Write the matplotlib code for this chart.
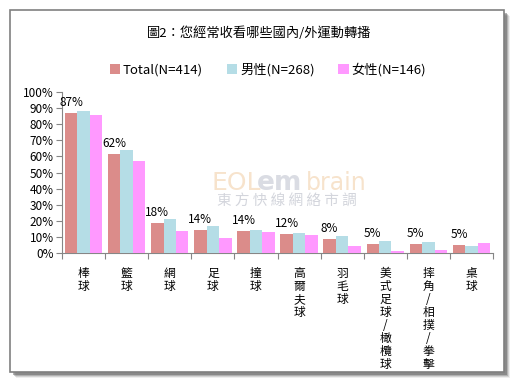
import matplotlib
matplotlib.use("Agg")
import matplotlib.pyplot as plt
from matplotlib.patches import Rectangle
import numpy as np

plt.rcParams['font.family'] = ['Noto Sans CJK TC', 'DejaVu Sans']

categories = ["棒球", "籃球", "網球", "足球", "撞球", "高爾夫球", "羽毛球", "美式足球/橄欖球", "摔角/相撲/拳擊", "桌球"]
total = [86.7, 61.6, 18.4, 14.3, 13.7, 11.9, 8.5, 5.6, 5.6, 5.1]
male = [88.1, 64.0, 21.0, 16.8, 14.3, 12.5, 10.6, 7.6, 6.9, 4.5]
female = [85.5, 57.3, 13.7, 9.4, 13.1, 11.2, 4.5, 1.4, 2.0, 6.3]
total_labels = ["87%", "62%", "18%", "14%", "14%", "12%", "8%", "5%", "5%", "5%"]
legend_labels = ["Total(N=414)", "男性(N=268)", "女性(N=146)"]
title = "圖2：您經常收看哪些國內/外運動轉播"
yticks = list(range(0, 101, 10))

W, H = 518, 383
fig = plt.figure(figsize=(W / 100, H / 100), dpi=100)
fig.patch.set_facecolor("white")

# frame with shadow
for i, a in enumerate([0.10, 0.18, 0.28, 0.45]):
    off = 5 - i
    fig.patches.append(Rectangle(((11 + off) / W, 1 - (373 + off) / H), 494 / W, 362 / H,
                                 transform=fig.transFigure, facecolor=(0.35, 0.35, 0.35, a),
                                 edgecolor="none", zorder=0))
fig.patches.append(Rectangle((10 / W, 1 - 372 / H), 494 / W, 362 / H, transform=fig.transFigure,
                             facecolor="white", edgecolor="#808080", linewidth=1.2, zorder=1))

ax = fig.add_axes([62 / W, 1 - 253 / H, (493 - 62) / W, (253 - 92) / H])
ax.set_facecolor("none")
ax.set_zorder(3)

x = np.arange(len(categories))
bw = 0.29
c_total, c_male, c_female = "#DB8C8A", "#B5DDE6", "#FF99FF"
ax.bar(x - bw, total, bw, color=c_total, label=legend_labels[0], zorder=3)
ax.bar(x, male, bw, color=c_male, label=legend_labels[1], zorder=3)
ax.bar(x + bw, female, bw, color=c_female, label=legend_labels[2], zorder=3)

for xi, v, lab in zip(x, total, total_labels):
    ax.annotate(lab, (xi - bw, v), xytext=(0, 3), textcoords="offset points",
                ha="center", va="bottom", fontsize=8.5, color="black", zorder=4)

ax.set_xlim(-0.5, len(categories) - 0.5)
ax.set_ylim(0, 100)
ax.set_yticks(yticks)
ax.set_yticklabels([f"{t}%" for t in yticks], fontsize=8.5)
ax.set_xticks(np.arange(-0.5, len(categories), 1.0))
ax.set_xticklabels([])
ax.set_xticks(x, minor=True)
ax.set_xticklabels(["\n".join(c) for c in categories], minor=True, fontsize=8.5,
                   va="top", linespacing=1.0)
ax.tick_params(axis="x", which="minor", length=0, pad=10)
ax.tick_params(axis="x", which="major", direction="out", length=4, color="#868686")
ax.tick_params(axis="y", direction="out", length=4, color="#868686", pad=2)
for s in ["top", "right"]:
    ax.spines[s].set_visible(False)
for s in ["left", "bottom"]:
    ax.spines[s].set_color("#868686")

# watermark
fig.text(212 / W, 1 - 183 / H, "EOL", fontsize=18, color="#F7E3CC", ha="left", va="center",
         family="DejaVu Sans", zorder=2)
fig.text(257 / W, 1 - 183 / H, "em", fontsize=19, color="#DADCE3", ha="left", va="center",
         family="DejaVu Sans", fontweight="bold", zorder=2)
fig.text(306 / W, 1 - 183 / H, "brain", fontsize=17, color="#F7E3CC", ha="left", va="center",
         family="DejaVu Sans", zorder=2)
fig.text(287 / W, 1 - 201 / H, "東 方 快 線 網 絡 市 調", fontsize=10.5, color="#D3D5DC",
         ha="center", va="center", zorder=2)

fig.text(259 / W, 1 - 33 / H, title, fontsize=9.5, ha="center", va="center", zorder=4)
fig.legend(loc="center", bbox_to_anchor=(268 / W, 1 - 70 / H), ncol=3, frameon=False,
           fontsize=9.5, handlelength=0.8, handleheight=0.8, handletextpad=0.2,
           columnspacing=1.8)

fig.savefig("out.png", dpi=100)
